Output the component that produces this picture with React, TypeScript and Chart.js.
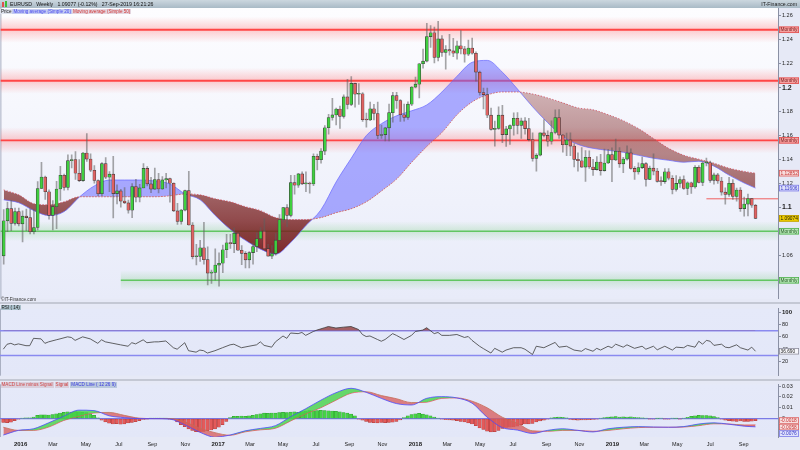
import React, { useEffect, useRef } from 'react';
import { Chart, registerables } from 'chart.js';

Chart.register(...registerables);

// ---------------- DATA ----------------
// Weekly EURUSD candles, bar 0 = week of Monday 2015-11-30, last = week of 2019-09-23
const FIRST_WEEK = '2015-11-30';

const opens = [
  1.0594, 1.0887, 1.0989, 1.0866, 1.0965, 1.0862, 1.0926, 1.0914, 1.0796, 1.0831,
  1.1157, 1.1253, 1.1130, 1.0933, 1.1005, 1.1153, 1.1268, 1.1166, 1.1390, 1.1399,
  1.1285, 1.1223, 1.1454, 1.1403, 1.1310, 1.1224, 1.1114, 1.1365, 1.1252, 1.1277,
  1.1115, 1.1137, 1.1052, 1.1037, 1.0975, 1.1174, 1.1084, 1.1162, 1.1325, 1.1196,
  1.1152, 1.1232, 1.1153, 1.1229, 1.1241, 1.1201, 1.0970, 1.0882, 1.0977, 1.1139,
  1.0852, 1.0587, 1.0590, 1.0662, 1.0562, 1.0450, 1.0455, 1.0517, 1.0532, 1.0645,
  1.0704, 1.0697, 1.0784, 1.0641, 1.0615, 1.0561, 1.0621, 1.0672, 1.0737, 1.0800,
  1.0654, 1.0592, 1.0614, 1.0725, 1.0896, 1.0998, 1.0933, 1.1206, 1.1184, 1.1279,
  1.1196, 1.1197, 1.1195, 1.1426, 1.1398, 1.1470, 1.1665, 1.1751, 1.1772, 1.1821,
  1.1760, 1.1923, 1.1860, 1.2036, 1.1945, 1.1949, 1.1732, 1.1730, 1.1823, 1.1784,
  1.1600, 1.1608, 1.1664, 1.1791, 1.1933, 1.1893, 1.1774, 1.1751, 1.1862, 1.2005,
  1.2029, 1.2200, 1.2222, 1.2427, 1.2459, 1.2253, 1.2408, 1.2294, 1.2318, 1.2307,
  1.2288, 1.2350, 1.2324, 1.2280, 1.2331, 1.2288, 1.2130, 1.1960, 1.1942, 1.1770,
  1.1652, 1.1660, 1.1770, 1.1608, 1.1655, 1.1684, 1.1744, 1.1685, 1.1722, 1.1658,
  1.1566, 1.1409, 1.1436, 1.1622, 1.1601, 1.1552, 1.1625, 1.1750, 1.1604, 1.1523,
  1.1563, 1.1512, 1.1401, 1.1389, 1.1336, 1.1418, 1.1337, 1.1315, 1.1378, 1.1307,
  1.1370, 1.1441, 1.1396, 1.1468, 1.1363, 1.1403, 1.1455, 1.1325, 1.1295, 1.1332,
  1.1365, 1.1234, 1.1327, 1.1303, 1.1217, 1.1215, 1.1297, 1.1243, 1.1150, 1.1200,
  1.1232, 1.1157, 1.1205, 1.1170, 1.1334, 1.1208, 1.1370, 1.1372, 1.1225, 1.1271,
  1.1220, 1.1127, 1.1107, 1.1201, 1.1091, 1.1144, 1.0989, 1.1027, 1.1073, 1.1017,
];

const highs = [
  1.0981, 1.1043, 1.1059, 1.0993, 1.0993, 1.0971, 1.0985, 1.0986, 1.0985, 1.1216,
  1.1376, 1.1260, 1.1147, 1.1057, 1.1218, 1.1342, 1.1278, 1.1439, 1.1438, 1.1465,
  1.1398, 1.1460, 1.1616, 1.1446, 1.1349, 1.1230, 1.1373, 1.1416, 1.1298, 1.1427,
  1.1187, 1.1150, 1.1164, 1.1060, 1.1198, 1.1234, 1.1191, 1.1365, 1.1340, 1.1251,
  1.1327, 1.1284, 1.1257, 1.1283, 1.1245, 1.1204, 1.1034, 1.0983, 1.1143, 1.1300,
  1.0873, 1.0690, 1.0724, 1.0874, 1.0669, 1.0475, 1.0652, 1.0620, 1.0685, 1.0775,
  1.0775, 1.0829, 1.0787, 1.0679, 1.0630, 1.0630, 1.0700, 1.0786, 1.0830, 1.0906,
  1.0690, 1.0680, 1.0780, 1.0940, 1.1000, 1.1023, 1.1268, 1.1268, 1.1283, 1.1296,
  1.1296, 1.1211, 1.1446, 1.1445, 1.1490, 1.1683, 1.1777, 1.1910, 1.1830, 1.1846,
  1.1940, 1.2070, 1.2092, 1.2039, 1.2034, 1.1960, 1.1787, 1.1880, 1.1860, 1.1880,
  1.1688, 1.1669, 1.1862, 1.1961, 1.1961, 1.1900, 1.1863, 1.1882, 1.2010, 1.2089,
  1.2203, 1.2323, 1.2537, 1.2520, 1.2507, 1.2555, 1.2435, 1.2352, 1.2445, 1.2413,
  1.2389, 1.2477, 1.2346, 1.2397, 1.2414, 1.2300, 1.2138, 1.1996, 1.1997, 1.1830,
  1.1720, 1.1840, 1.1852, 1.1676, 1.1690, 1.1790, 1.1791, 1.1746, 1.1750, 1.1744,
  1.1623, 1.1449, 1.1623, 1.1733, 1.1640, 1.1722, 1.1815, 1.1816, 1.1610, 1.1621,
  1.1622, 1.1532, 1.1456, 1.1500, 1.1474, 1.1472, 1.1401, 1.1424, 1.1442, 1.1486,
  1.1484, 1.1497, 1.1570, 1.1499, 1.1417, 1.1514, 1.1488, 1.1341, 1.1372, 1.1419,
  1.1374, 1.1345, 1.1448, 1.1325, 1.1255, 1.1324, 1.1324, 1.1266, 1.1265, 1.1255,
  1.1263, 1.1212, 1.1211, 1.1348, 1.1348, 1.1380, 1.1412, 1.1386, 1.1286, 1.1283,
  1.1250, 1.1163, 1.1250, 1.1231, 1.1161, 1.1165, 1.1085, 1.1110, 1.1076, 1.1025,
];

const lows = [
  1.0524, 1.0796, 1.0805, 1.0850, 1.0845, 1.0711, 1.0804, 1.0778, 1.0778, 1.0810,
  1.1155, 1.1066, 1.0900, 1.0810, 1.0822, 1.1058, 1.1144, 1.1145, 1.1330, 1.1233,
  1.1215, 1.1217, 1.1384, 1.1297, 1.1202, 1.1098, 1.1098, 1.1240, 1.1131, 1.0912,
  1.1029, 1.1002, 1.1030, 1.0952, 1.0913, 1.1044, 1.1045, 1.1162, 1.1179, 1.1122,
  1.1149, 1.1121, 1.1150, 1.1163, 1.1043, 1.0964, 1.0857, 1.0859, 1.0970, 1.0850,
  1.0569, 1.0518, 1.0548, 1.0524, 1.0352, 1.0364, 1.0391, 1.0340, 1.0454, 1.0578,
  1.0657, 1.0620, 1.0640, 1.0520, 1.0493, 1.0494, 1.0525, 1.0630, 1.0737, 1.0650,
  1.0591, 1.0570, 1.0600, 1.0722, 1.0876, 1.0839, 1.0920, 1.1110, 1.1167, 1.1190,
  1.1131, 1.1119, 1.1180, 1.1312, 1.1369, 1.1440, 1.1612, 1.1729, 1.1688, 1.1660,
  1.1745, 1.1823, 1.1850, 1.1838, 1.1860, 1.1717, 1.1669, 1.1725, 1.1730, 1.1574,
  1.1575, 1.1554, 1.1554, 1.1712, 1.1826, 1.1717, 1.1719, 1.1735, 1.1850, 1.1998,
  1.1915, 1.2163, 1.2215, 1.2336, 1.2206, 1.2223, 1.2262, 1.2155, 1.2272, 1.2260,
  1.2239, 1.2283, 1.2214, 1.2268, 1.2281, 1.2055, 1.1938, 1.1823, 1.1750, 1.1644,
  1.1510, 1.1650, 1.1540, 1.1508, 1.1526, 1.1603, 1.1614, 1.1575, 1.1611, 1.1554,
  1.1386, 1.1301, 1.1430, 1.1588, 1.1510, 1.1527, 1.1613, 1.1575, 1.1460, 1.1432,
  1.1432, 1.1337, 1.1302, 1.1333, 1.1216, 1.1324, 1.1267, 1.1310, 1.1268, 1.1301,
  1.1364, 1.1215, 1.1390, 1.1334, 1.1290, 1.1393, 1.1318, 1.1234, 1.1277, 1.1322,
  1.1176, 1.1232, 1.1270, 1.1210, 1.1183, 1.1200, 1.1228, 1.1111, 1.1135, 1.1166,
  1.1150, 1.1106, 1.1116, 1.1160, 1.1203, 1.1181, 1.1346, 1.1208, 1.1193, 1.1200,
  1.1101, 1.1027, 1.1090, 1.1066, 1.1052, 1.0965, 1.0926, 1.0927, 1.0999, 1.0905,
];

const closes = [
  1.0887, 1.0989, 1.0866, 1.0965, 1.0862, 1.0926, 1.0914, 1.0796, 1.0831, 1.1157,
  1.1253, 1.1130, 1.0933, 1.1005, 1.1153, 1.1268, 1.1166, 1.1390, 1.1399, 1.1285,
  1.1223, 1.1454, 1.1403, 1.1310, 1.1224, 1.1114, 1.1365, 1.1252, 1.1277, 1.1115,
  1.1137, 1.1052, 1.1037, 1.0975, 1.1174, 1.1084, 1.1162, 1.1325, 1.1196, 1.1152,
  1.1232, 1.1153, 1.1229, 1.1241, 1.1201, 1.0970, 1.0882, 1.0977, 1.1139, 1.0852,
  1.0587, 1.0590, 1.0662, 1.0562, 1.0450, 1.0455, 1.0517, 1.0532, 1.0645, 1.0704,
  1.0697, 1.0784, 1.0641, 1.0615, 1.0561, 1.0621, 1.0672, 1.0737, 1.0800, 1.0654,
  1.0592, 1.0614, 1.0725, 1.0896, 1.0998, 1.0933, 1.1206, 1.1184, 1.1279, 1.1196,
  1.1197, 1.1195, 1.1426, 1.1398, 1.1470, 1.1665, 1.1751, 1.1772, 1.1821, 1.1760,
  1.1923, 1.1860, 1.2036, 1.1945, 1.1949, 1.1732, 1.1730, 1.1823, 1.1784, 1.1600,
  1.1608, 1.1664, 1.1791, 1.1933, 1.1893, 1.1774, 1.1751, 1.1862, 1.2005, 1.2029,
  1.2200, 1.2222, 1.2427, 1.2459, 1.2253, 1.2408, 1.2294, 1.2318, 1.2307, 1.2288,
  1.2350, 1.2324, 1.2280, 1.2331, 1.2288, 1.2130, 1.1960, 1.1942, 1.1770, 1.1652,
  1.1660, 1.1770, 1.1608, 1.1655, 1.1684, 1.1744, 1.1685, 1.1722, 1.1658, 1.1566,
  1.1409, 1.1436, 1.1622, 1.1601, 1.1552, 1.1625, 1.1750, 1.1604, 1.1523, 1.1563,
  1.1512, 1.1401, 1.1389, 1.1336, 1.1418, 1.1337, 1.1315, 1.1378, 1.1307, 1.1370,
  1.1441, 1.1396, 1.1468, 1.1363, 1.1403, 1.1455, 1.1325, 1.1295, 1.1332, 1.1365,
  1.1234, 1.1327, 1.1303, 1.1217, 1.1215, 1.1297, 1.1243, 1.1150, 1.1200, 1.1232,
  1.1157, 1.1205, 1.1170, 1.1334, 1.1208, 1.1370, 1.1372, 1.1225, 1.1271, 1.1220,
  1.1127, 1.1107, 1.1201, 1.1091, 1.1144, 1.0989, 1.1027, 1.1073, 1.1017, 1.09074,
];

// moving averages and MACD lines, read every 4 weeks
const sampleWeeks = [
  0, 4, 8, 12, 16, 20, 24, 28, 32, 36, 40, 44, 48, 52, 56, 60, 64, 68, 72, 76,
  80, 84, 88, 92, 96, 100, 104, 108, 112, 116, 120, 124, 128, 132, 136, 140, 144, 148, 152, 156,
  160, 164, 168, 172, 176, 180, 184, 188, 192, 196, 199,
];

const sma20 = [
  1.1063, 1.1038, 1.0972, 1.0931, 1.0964, 1.1085, 1.1179, 1.1228, 1.1228, 1.1228,
  1.1220, 1.1195, 1.1112, 1.1063, 1.0931, 1.0815, 1.0724, 1.0650, 1.0608, 1.0707,
  1.0848, 1.0980, 1.1212, 1.1410, 1.1600, 1.1699, 1.1765, 1.1807, 1.1856, 1.1964,
  1.2096, 1.2212, 1.2228, 1.2129, 1.1988, 1.1840, 1.1707, 1.1592, 1.1526, 1.1493,
  1.1476, 1.1460, 1.1435, 1.1410, 1.1393, 1.1377, 1.1385, 1.1344, 1.1269, 1.1203,
  1.11606,
];

const sma50 = [
  1.1145, 1.1104, 1.1030, 1.1021, 1.1046, 1.1088, 1.1088, 1.1088, 1.1088, 1.1088,
  1.1088, 1.1096, 1.1112, 1.1104, 1.1071, 1.1046, 1.1005, 1.0972, 1.0914, 1.0898,
  1.0898, 1.0914, 1.0955, 1.0988, 1.1046, 1.1137, 1.1236, 1.1377, 1.1509, 1.1625,
  1.1774, 1.1881, 1.1939, 1.1964, 1.1964, 1.1947, 1.1914, 1.1873, 1.1831, 1.1815,
  1.1774, 1.1724, 1.1658, 1.1575, 1.1493, 1.1435, 1.1402, 1.1369, 1.1327, 1.1300,
  1.12852,
];

const macdLine = [
  -0.0152, -0.0109, -0.0094, -0.0039, 0.0022, 0.0078, 0.0074, 0.0026, 0.0009, 0.0000,
  0.0000, -0.0004, -0.0057, -0.0126, -0.0174, -0.0152, -0.0113, -0.0091, -0.0065, 0.0017,
  0.0091, 0.0170, 0.0239, 0.0280, 0.0243, 0.0187, 0.0139, 0.0126, 0.0187, 0.0203,
  0.0191, 0.0143, 0.0013, -0.0083, -0.0106, -0.0137, -0.0109, -0.0094, -0.0109, -0.0123,
  -0.0094, -0.0080, -0.0074, -0.0078, -0.0080, -0.0074, -0.0050, -0.0039, -0.0052, -0.0070,
  -0.0076,
];

const signalLine = [
  -0.0080, -0.0109, -0.0109, -0.0078, -0.0017, 0.0022, 0.0052, 0.0057, 0.0030, 0.0004,
  0.0000, 0.0000, -0.0030, -0.0089, -0.0130, -0.0154, -0.0122, -0.0104, -0.0089, -0.0022,
  0.0045, 0.0100, 0.0170, 0.0235, 0.0248, 0.0213, 0.0184, 0.0148, 0.0152, 0.0187,
  0.0191, 0.0161, 0.0100, 0.0013, -0.0043, -0.0113, -0.0117, -0.0109, -0.0109, -0.0117,
  -0.0109, -0.0094, -0.0083, -0.0080, -0.0080, -0.0078, -0.0065, -0.0048, -0.0050, -0.0059,
  -0.0058,
];

// MACD line minus signal, weekly
const macdHist = [
  -0.0035, -0.0038, -0.0032, -0.0020, -0.0006, 0.0004, 0.0007, 0.0008, 0.0015, 0.0030,
  0.0034, 0.0036, 0.0033, 0.0038, 0.0045, 0.0052, 0.0058, 0.0062, 0.0060, 0.0065,
  0.0063, 0.0058, 0.0055, 0.0045, 0.0030, 0.0008, -0.0015, -0.0030, -0.0042, -0.0050,
  -0.0046, -0.0052, -0.0048, -0.0040, -0.0035, -0.0028, -0.0018, -0.0008, -0.0003, 0.0002,
  0.0004, 0.0003, 0.0005, 0.0002, -0.0002, -0.0010, -0.0030, -0.0055, -0.0075, -0.0095,
  -0.0110, -0.0120, -0.0123, -0.0118, -0.0112, -0.0105, -0.0095, -0.0080, -0.0055, -0.0025,
  0.0010, 0.0020, 0.0022, 0.0024, 0.0020, 0.0025, 0.0030, 0.0038, 0.0045, 0.0050,
  0.0048, 0.0052, 0.0050, 0.0055, 0.0058, 0.0055, 0.0060, 0.0062, 0.0058, 0.0065,
  0.0070, 0.0074, 0.0072, 0.0075, 0.0076, 0.0074, 0.0072, 0.0070, 0.0068, 0.0062,
  0.0055, 0.0050, 0.0042, 0.0025, -0.0005, -0.0015, -0.0025, -0.0035, -0.0038, -0.0040,
  -0.0036, -0.0038, -0.0035, -0.0032, -0.0025, -0.0012, 0.0010, 0.0025, 0.0038, 0.0045,
  0.0048, 0.0042, 0.0035, 0.0025, 0.0015, 0.0005, -0.0005, -0.0010, -0.0012, -0.0015,
  -0.0020, -0.0025, -0.0030, -0.0040, -0.0050, -0.0065, -0.0085, -0.0100, -0.0115, -0.0123,
  -0.0120, -0.0110, -0.0090, -0.0082, -0.0080, -0.0078, -0.0070, -0.0055, -0.0050, -0.0048,
  -0.0045, -0.0030, -0.0022, -0.0015, -0.0005, 0.0008, 0.0012, 0.0014, 0.0012, 0.0006,
  -0.0008, -0.0012, -0.0014, -0.0012, -0.0013, -0.0010, -0.0008, -0.0004, 0.0003, 0.0010,
  0.0015, 0.0016, 0.0018, 0.0015, 0.0017, 0.0014, 0.0016, 0.0012, 0.0010, 0.0008,
  0.0004, -0.0003, -0.0004, 0.0002, 0.0003, -0.0002, -0.0004, 0.0003, 0.0002, -0.0002,
  0.0004, 0.0012, 0.0020, 0.0026, 0.0030, 0.0028, 0.0029, 0.0025, 0.0018, 0.0010,
  -0.0005, -0.0015, -0.0020, -0.0024, -0.0026, -0.0022, -0.0025, -0.0027, -0.0024, -0.0018,
];

// RSI(14)
const rsiWeeks = [
  0, 1, 2, 3, 4, 6, 7, 8, 10, 11,
  12, 14, 15, 17, 18, 19, 21, 23, 25, 26,
  27, 29, 31, 33, 34, 35, 37, 38, 40, 41,
  43, 45, 46, 48, 49, 51, 52, 53, 54, 56,
  58, 60, 61, 63, 65, 67, 68, 69, 71, 72,
  74, 75, 76, 78, 79, 80, 82, 83, 85, 86,
  88, 90, 92, 94, 95, 96, 97, 99, 100, 101,
  103, 104, 106, 108, 109, 111, 112, 114, 115, 116,
  118, 120, 122, 123, 124, 126, 127, 129, 130, 132,
  133, 135, 137, 138, 140, 141, 143, 146, 147, 149,
  151, 153, 154, 156, 157, 158, 160, 161, 162, 164,
  165, 167, 169, 170, 172, 173, 175, 177, 178, 180,
  181, 183, 184, 185, 186, 187, 188, 190, 191, 192,
  194, 195, 197, 198, 199,
];
const rsiValues = [
  40, 48, 49.5, 47, 48.6, 45.7, 45.7, 57.6, 56.7, 49.5,
  51.9, 55.2, 56.7, 60, 59, 54.3, 60, 56.7, 49.5, 55.2,
  51.9, 49.5, 47.1, 44.8, 50.5, 48.6, 55.2, 50.5, 51.9, 51.9,
  53.3, 42.4, 40, 50.5, 37.6, 35.2, 38.6, 37.6, 33.8, 37.6,
  42.4, 47.1, 48.1, 42.4, 44.8, 47.1, 51.9, 46.2, 43.3, 51.9,
  61.4, 57.6, 66.2, 65.2, 67.1, 62.4, 68.6, 71, 74.8, 76.7,
  74.3, 75.7, 76.7, 71.9, 63.8, 60.5, 61.4, 55.7, 52.9, 55.7,
  65.2, 62.4, 55.7, 62.4, 68.6, 71, 74.8, 65.2, 67.1, 62.4,
  62.4, 63.8, 59, 60.5, 54.3, 44.8, 41, 33.8, 41.4, 35.2,
  38.6, 42.4, 42.4, 40, 31.4, 44.8, 42.4, 51, 43.3, 44.8,
  38.6, 36.7, 41, 36.7, 41.4, 38.6, 44.8, 42.4, 48.1, 43.3,
  47.1, 41.4, 44.8, 40, 44.8, 39, 44.8, 38.6, 43.3, 42.4,
  46.2, 43.3, 52.9, 48.1, 54.3, 52.9, 46.2, 48.1, 43.3, 42.4,
  47.1, 42.4, 38.6, 43.3, 36.69,
];

// horizontal levels
const levelValues = [1.2484, 1.2058, 1.1560, 1.0800, 1.0390];
const levelKinds = ['res', 'res', 'res', 'sup', 'sup'];
const levelStartWeeks = [null, null, null, null, 31];
const levelLabels = ['Monthly', 'Monthly', 'Monthly', 'Monthly', 'Monthly'];
const shortLevelValue = 1.1071;
const shortLevelStartWeek = 186;

// axis ticks
const priceTicks = [1.06, 1.08, 1.1, 1.12, 1.14, 1.16, 1.18, 1.2, 1.22, 1.24, 1.26];
const rsiTicks = [20, 40, 60, 80, 100];
const macdTicks = [-0.01, 0, 0.01, 0.02, 0.03];
const monthTickDates = [
  '2016-01-01', '2016-03-01', '2016-05-01', '2016-07-01', '2016-09-01', '2016-11-01',
  '2017-01-01', '2017-03-01', '2017-05-01', '2017-07-01', '2017-09-01', '2017-11-01',
  '2018-01-01', '2018-03-01', '2018-05-01', '2018-07-01', '2018-09-01', '2018-11-01',
  '2019-01-01', '2019-03-01', '2019-05-01', '2019-07-01', '2019-09-01',
];
const monthTickLabels = [
  '2016', 'Mar', 'May', 'Jul', 'Sep', 'Nov',
  '2017', 'Mar', 'May', 'Jul', 'Sep', 'Nov',
  '2018', 'Mar', 'May', 'Jul', 'Sep', 'Nov',
  '2019', 'Mar', 'May', 'Jul', 'Sep',
];

const HEADER_TEXT = 'EURUSD   Weekly   1.09077 (-0.12%)   27-Sep-2019 16:21:26';

// ---------------- STYLE / LAYOUT ----------------
const FONT = "'Liberation Sans', Arial, Helvetica, sans-serif";
const X_MIN = -0.87;
const X_MAX = 204.95;
const GREEN = '#3fcf3f';
const RED = '#e06262';
const AXIS_W = 22;

function weekPos(dateStr: string) {
  return (Date.parse(dateStr) - Date.parse(FIRST_WEEK)) / (7 * 86400000);
}

function yAxis(min: number, max: number, ticks: number[], fmt: (v: number) => string, fontFn: (v: number) => any) {
  return {
    type: 'linear',
    position: 'right',
    min,
    max,
    beginAtZero: false,
    afterFit: (s: any) => { s.width = AXIS_W; },
    afterBuildTicks: (s: any) => { s.ticks = ticks.map((v) => ({ value: v })); },
    grid: { drawOnChartArea: false, drawTicks: true, tickLength: 3, color: '#8a90a4' },
    border: { display: true, color: '#8a90a4', width: 1 },
    ticks: {
      padding: 1,
      color: '#222',
      autoSkip: false,
      font: (ctx: any) => fontFn(ctx.tick ? ctx.tick.value : 0),
      callback: (v: any) => fmt(Number(v)),
    },
  };
}

function hiddenX() {
  return { type: 'linear', min: X_MIN, max: X_MAX, display: false, offset: false, grid: { offset: false } };
}

type Box = { v: number; text: string; bg: string; border: string; color: string };

function drawBoxes(chart: any, boxes: Box[]) {
  const { ctx, chartArea: a } = chart;
  const y = chart.scales.y;
  const h = 6.5;
  const arr = boxes.map((b) => ({ ...b, py: y.getPixelForValue(b.v) })).sort((p, q) => p.py - q.py);
  for (let k = 1; k < arr.length; k++) {
    if (arr[k].py - arr[k - 1].py < h) arr[k].py = arr[k - 1].py + h;
  }
  ctx.save();
  const x0 = a.right + 1;
  const w = chart.width - x0 - 1;
  arr.forEach((b) => {
    ctx.fillStyle = b.bg;
    ctx.fillRect(x0, b.py - h / 2, w, h);
    ctx.strokeStyle = b.border;
    ctx.lineWidth = 0.8;
    ctx.strokeRect(x0 + 0.4, b.py - h / 2 + 0.4, w - 0.8, h - 0.8);
    ctx.fillStyle = b.color;
    ctx.font = `4.8px ${FONT}`;
    ctx.textBaseline = 'middle';
    ctx.textAlign = 'left';
    ctx.fillText(b.text, x0 + 1.5, b.py + 0.3);
  });
  ctx.restore();
}

function panelBg(top: string, bottom: string) {
  return {
    id: 'panelBg',
    beforeDraw(chart: any) {
      const { ctx, chartArea: a } = chart;
      const g = ctx.createLinearGradient(0, a.top, 0, a.bottom);
      g.addColorStop(0, top);
      g.addColorStop(1, bottom);
      ctx.save();
      ctx.fillStyle = g;
      ctx.fillRect(a.left, a.top, a.right - a.left, a.bottom - a.top);
      ctx.strokeStyle = '#aab0c2';
      ctx.lineWidth = 1;
      ctx.beginPath();
      ctx.moveTo(a.left + 0.5, a.top);
      ctx.lineTo(a.left + 0.5, a.bottom);
      ctx.stroke();
      ctx.restore();
    },
  };
}

const baseOptions = {
  animation: false,
  responsive: false,
  maintainAspectRatio: false,
  events: [],
  plugins: { legend: { display: false }, tooltip: { enabled: false } },
};

export default function App() {
  const mainRef = useRef<HTMLCanvasElement>(null);
  const rsiRef = useRef<HTMLCanvasElement>(null);
  const macdRef = useRef<HTMLCanvasElement>(null);

  useEffect(() => {
    Chart.defaults.font.family = FONT;
    const weeks = closes.map((_, i) => i);
    const charts: any[] = [];

    // ---------- main price panel ----------
    const levelsPlugin = {
      id: 'levels',
      beforeDatasetsDraw(chart: any) {
        const { ctx, chartArea: a, scales } = chart;
        const x = scales.x;
        const y = scales.y;
        ctx.save();
        ctx.beginPath();
        ctx.rect(a.left, a.top, a.right - a.left, a.bottom - a.top);
        ctx.clip();
        levelValues.forEach((v, k) => {
          const py = y.getPixelForValue(v);
          const sw = levelStartWeeks[k];
          const x0 = sw == null ? a.left : x.getPixelForValue(sw);
          const res = levelKinds[k] === 'res';
          const spread = res ? 13 : 10;
          const c = res ? '255,90,90' : '90,195,90';
          const g = ctx.createLinearGradient(0, py - spread, 0, py + spread);
          g.addColorStop(0, `rgba(${c},0)`);
          g.addColorStop(0.5, `rgba(${c},${res ? 0.3 : 0.22})`);
          g.addColorStop(1, `rgba(${c},0)`);
          ctx.fillStyle = g;
          ctx.fillRect(x0, py - spread, a.right - x0, spread * 2);
          ctx.strokeStyle = res ? '#ff4646' : '#62c662';
          ctx.lineWidth = res ? 1.8 : 1.4;
          ctx.beginPath();
          ctx.moveTo(x0, py);
          ctx.lineTo(a.right, py);
          ctx.stroke();
        });
        const sy = y.getPixelForValue(shortLevelValue);
        ctx.strokeStyle = '#f06060';
        ctx.lineWidth = 1;
        ctx.beginPath();
        ctx.moveTo(x.getPixelForValue(shortLevelStartWeek), sy);
        ctx.lineTo(a.right, sy);
        ctx.stroke();
        ctx.restore();
      },
      afterDraw(chart: any) {
        const boxes: Box[] = levelValues.map((v, k) => {
          const res = levelKinds[k] === 'res';
          return {
            v,
            text: levelLabels[k],
            bg: res ? '#f5a0a0' : '#b8e6b8',
            border: res ? '#e05050' : '#50b050',
            color: res ? '#7a1c1c' : '#1e5a1e',
          };
        });
        boxes.push({ v: sma50[sma50.length - 1], text: sma50[sma50.length - 1].toFixed(5), bg: '#f7dede', border: '#d86060', color: '#c83232' });
        boxes.push({ v: sma20[sma20.length - 1], text: sma20[sma20.length - 1].toFixed(5), bg: '#dfe2fb', border: '#7a7ae6', color: '#3434c8' });
        boxes.push({ v: closes[closes.length - 1], text: closes[closes.length - 1].toFixed(5), bg: '#f2d000', border: '#b89a00', color: '#111' });
        drawBoxes(chart, boxes);
      },
    };

    const main = new Chart(mainRef.current as HTMLCanvasElement, {
      type: 'bar',
      data: {
        datasets: [
          {
            type: 'line',
            label: 'Moving average (Simple 20)',
            data: sampleWeeks.map((w, k) => ({ x: w, y: sma20[k] })),
            borderColor: 'rgba(105,105,255,0.9)',
            borderWidth: 0.8,
            pointRadius: 0,
            cubicInterpolationMode: 'monotone',
            fill: { target: '+1', above: 'rgba(105,105,255,0.55)', below: 'rgba(140,50,50,0.75)' },
            order: 4,
          },
          {
            type: 'line',
            label: 'Moving average (Simple 50)',
            data: sampleWeeks.map((w, k) => ({ x: w, y: sma50[k] })),
            borderColor: 'rgba(210,70,70,0.9)',
            borderWidth: 0.8,
            borderDash: [1.5, 1.5],
            pointRadius: 0,
            cubicInterpolationMode: 'monotone',
            fill: false,
            order: 3,
          },
          {
            type: 'bar',
            label: 'wick',
            data: weeks.map((i) => ({ x: i, y: [lows[i], highs[i]] })),
            backgroundColor: 'rgba(95,95,95,0.55)',
            barThickness: 1,
            grouped: false,
            order: 2,
          },
          {
            type: 'bar',
            label: 'Price',
            data: weeks.map((i) => ({ x: i, y: [opens[i], closes[i]] })),
            backgroundColor: weeks.map((i) => (closes[i] >= opens[i] ? GREEN : RED)),
            borderColor: '#3a3a3a',
            borderWidth: 0.6,
            borderSkipped: false,
            barThickness: 3,
            minBarLength: 1,
            grouped: false,
            order: 1,
          },
        ],
      } as any,
      options: {
        ...baseOptions,
        layout: { padding: { top: 8, bottom: 1, left: 0, right: 0 } },
        scales: {
          x: hiddenX(),
          y: yAxis(1.0236, 1.2666, priceTicks, (v) => String(Number(v.toFixed(2))), (v) => {
            const major = Math.abs(v - 1.2) < 1e-6 || Math.abs(v - 1.1) < 1e-6;
            return { size: major ? 7 : 5.5, weight: major ? 'bold' : 'normal' };
          }),
        },
      } as any,
      plugins: [panelBg('#fdfdff', '#e8ebf9'), levelsPlugin],
    });
    // shade the bearish ribbon darker toward lower prices
    {
      const y = main.scales.y as any;
      const g = main.ctx.createLinearGradient(0, y.getPixelForValue(1.2), 0, y.getPixelForValue(1.06));
      g.addColorStop(0, 'rgba(175,118,118,0.52)');
      g.addColorStop(1, 'rgba(112,18,18,0.9)');
      (main.data.datasets[0] as any).fill.below = g;
      main.update();
    }
    charts.push(main);

    // ---------- RSI panel ----------
    const rsiPlugin = {
      id: 'rsiLevels',
      beforeDatasetsDraw(chart: any) {
        const { ctx, chartArea: a, scales } = chart;
        ctx.save();
        ctx.strokeStyle = '#8a8af0';
        ctx.lineWidth = 1.5;
        [70, 30].forEach((v) => {
          const py = scales.y.getPixelForValue(v);
          ctx.beginPath();
          ctx.moveTo(a.left, py);
          ctx.lineTo(a.right, py);
          ctx.stroke();
        });
        ctx.restore();
      },
      afterDraw(chart: any) {
        const last = rsiValues[rsiValues.length - 1];
        drawBoxes(chart, [{ v: last, text: last.toFixed(3), bg: '#f8f8fc', border: '#8a8a9a', color: '#222' }]);
      },
    };
    const rsi = new Chart(rsiRef.current as HTMLCanvasElement, {
      type: 'line',
      data: {
        datasets: [
          {
            label: 'RSI ( 14)',
            data: rsiWeeks.map((w, k) => ({ x: w, y: rsiValues[k] })),
            borderColor: '#3c3c3c',
            borderWidth: 0.8,
            pointRadius: 0,
            tension: 0,
            fill: { target: { value: 70 }, above: 'rgba(140,50,50,0.75)', below: 'rgba(0,0,0,0)' },
          },
        ],
      } as any,
      options: {
        ...baseOptions,
        layout: { padding: { top: 0, bottom: 0, left: 0, right: 0 } },
        scales: {
          x: hiddenX(),
          y: yAxis(-2.86, 105.7, rsiTicks, (v) => String(v), (v) => ({ size: v === 100 ? 6 : 5.5, weight: v === 100 ? 'bold' : 'normal' })),
        },
      } as any,
      plugins: [panelBg('#e5e9f9', '#e3e7f8'), rsiPlugin],
    });
    charts.push(rsi);

    // ---------- MACD panel ----------
    const tickPositions = monthTickDates.map(weekPos);
    const macdPlugin = {
      id: 'macdZero',
      beforeDatasetsDraw(chart: any) {
        const { ctx, chartArea: a, scales } = chart;
        const py = scales.y.getPixelForValue(0);
        ctx.save();
        ctx.strokeStyle = '#7a7ae6';
        ctx.lineWidth = 1.2;
        ctx.beginPath();
        ctx.moveTo(a.left, py);
        ctx.lineTo(a.right, py);
        ctx.stroke();
        ctx.restore();
      },
      afterDraw(chart: any) {
        const h = macdHist[macdHist.length - 1];
        const s = signalLine[signalLine.length - 1];
        const m = macdLine[macdLine.length - 1];
        drawBoxes(chart, [
          { v: h, text: h.toFixed(4), bg: '#f7dede', border: '#d86060', color: '#c83232' },
          { v: s, text: s.toFixed(4), bg: '#f7dede', border: '#d86060', color: '#c83232' },
          { v: m, text: m.toFixed(4), bg: '#dfe2fb', border: '#7a7ae6', color: '#3434c8' },
        ]);
      },
    };
    const macd = new Chart(macdRef.current as HTMLCanvasElement, {
      type: 'bar',
      data: {
        datasets: [
          {
            type: 'line',
            label: 'MACD Line ( 12 26 9)',
            data: sampleWeeks.map((w, k) => ({ x: w, y: macdLine[k] })),
            borderColor: '#4a4aff',
            borderWidth: 0.8,
            pointRadius: 0,
            cubicInterpolationMode: 'monotone',
            fill: { target: '+1', above: 'rgba(70,210,70,0.8)', below: 'rgba(215,90,90,0.75)' },
            order: 1,
          },
          {
            type: 'line',
            label: 'Signal',
            data: sampleWeeks.map((w, k) => ({ x: w, y: signalLine[k] })),
            borderColor: '#e05a5a',
            borderWidth: 0.8,
            pointRadius: 0,
            cubicInterpolationMode: 'monotone',
            fill: false,
            order: 2,
          },
          {
            type: 'bar',
            label: 'MACD Line minus Signal',
            data: weeks.map((i) => ({ x: i, y: macdHist[i] })),
            backgroundColor: macdHist.map((v) => (v >= 0 ? '#46d246' : '#e45a5a')),
            borderColor: macdHist.map((v) => (v >= 0 ? '#2c9a2c' : '#a83838')),
            borderWidth: 0.5,
            borderSkipped: false,
            barThickness: 3.2,
            grouped: false,
            order: 3,
          },
        ],
      } as any,
      options: {
        ...baseOptions,
        layout: { padding: { top: 1, bottom: 0, left: 0, right: 0 } },
        scales: {
          x: {
            type: 'linear',
            min: X_MIN,
            max: X_MAX,
            offset: false,
            position: 'bottom',
            afterFit: (s: any) => { s.height = 13; },
            afterBuildTicks: (s: any) => { s.ticks = tickPositions.map((v) => ({ value: v })); },
            grid: { display: false, drawTicks: false, offset: false },
            border: { display: false },
            ticks: {
              autoSkip: false,
              maxRotation: 0,
              padding: 4,
              color: '#222',
              font: (ctx: any) => {
                const yr = /^\d{4}$/.test(monthTickLabels[ctx.index] || '');
                return { size: yr ? 6 : 5.5, weight: yr ? 'bold' : 'normal' };
              },
              callback: (_v: any, i: number) => monthTickLabels[i],
            },
          },
          y: yAxis(-0.017, 0.0317, macdTicks, (v) => (Math.abs(v) < 1e-9 ? '0' : String(Number(v.toFixed(2)))), () => ({ size: 5.5 })),
        },
      } as any,
      plugins: [panelBg('#e5e9f9', '#e3e7f8'), macdPlugin],
    });
    charts.push(macd);

    return () => charts.forEach((c) => c.destroy());
  }, []);

  const small: React.CSSProperties = { whiteSpace: 'pre', fontFamily: FONT };

  return (
    <div style={{ position: 'fixed', left: 0, top: 0, width: 800, height: 450, overflow: 'hidden', background: '#e6e9f6', fontFamily: FONT }}>
      <canvas ref={mainRef} width={800} height={303} style={{ position: 'absolute', left: 0, top: 0 }} />
      <canvas ref={rsiRef} width={800} height={76} style={{ position: 'absolute', left: 0, top: 304 }} />
      <canvas ref={macdRef} width={800} height={70} style={{ position: 'absolute', left: 0, top: 380 }} />

      {/* panel separators */}
      <div style={{ position: 'absolute', left: 0, top: 302, width: 800, height: 2, background: '#c4c8d4' }} />
      <div style={{ position: 'absolute', left: 0, top: 379, width: 800, height: 2, background: '#c4c8d4' }} />

      {/* header bar */}
      <div style={{ position: 'absolute', left: 0, top: 0, width: 800, height: 8, background: 'linear-gradient(#ccd7df, #a9bac6)' }}>
        <div style={{ position: 'absolute', left: 2, top: 2, width: 2, height: 4.5, background: '#e05050' }} />
        <div style={{ position: 'absolute', left: 5, top: 1, width: 2, height: 5.5, background: '#3cbf3c' }} />
        <div style={{ ...small, position: 'absolute', left: 10, top: 0, fontSize: 5.2, lineHeight: '8px', color: '#111' }}>{HEADER_TEXT}</div>
        <div style={{ ...small, position: 'absolute', right: 3, top: 0, fontSize: 5.2, lineHeight: '8px', color: '#222' }}>IT-Finance.com</div>
      </div>

      {/* legend row */}
      <div style={{ ...small, position: 'absolute', left: 0, top: 8.5, height: 5.5, display: 'flex', fontSize: 4.6, lineHeight: '5.5px' }}>
        <span style={{ background: '#dde1ec', color: '#222', padding: '0 1px' }}>Price</span>
        <span style={{ background: '#c4ccf2', color: '#4646ee', padding: '0 1px' }}>Moving average (Simple 20)</span>
        <span style={{ background: '#e4d6e0', color: '#d03636', padding: '0 1px' }}>Moving average (Simple 50)</span>
      </div>

      <div style={{ ...small, position: 'absolute', left: 1, top: 296.5, fontSize: 4.6, lineHeight: '5px', color: '#333' }}>©IT-Finance.com</div>

      <div style={{ ...small, position: 'absolute', left: 0.5, top: 304.5, fontSize: 4.6, lineHeight: '5.5px', color: '#222', background: '#a9bfca', padding: '0 1px' }}>RSI ( 14)</div>

      <div style={{ ...small, position: 'absolute', left: 0.5, top: 382, height: 5.5, display: 'flex', fontSize: 4.6, lineHeight: '5.5px' }}>
        <span style={{ background: '#d9cfdc', color: '#d04646', padding: '0 1px' }}>MACD Line minus Signal</span>
        <span style={{ background: '#d9cfdc', color: '#d04646', padding: '0 1px', marginLeft: 1 }}>Signal</span>
        <span style={{ background: '#b9c8dd', color: '#3a3ae0', padding: '0 1px', marginLeft: 1 }}>MACD Line ( 12 26 9)</span>
      </div>
    </div>
  );
}
